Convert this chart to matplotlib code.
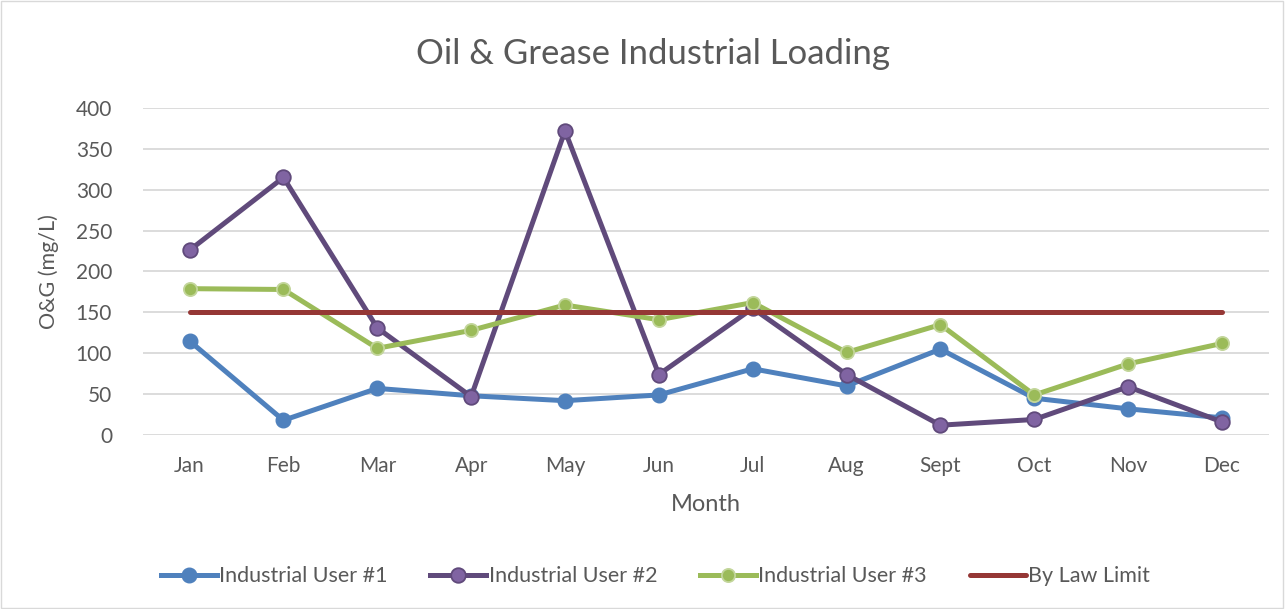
import matplotlib
matplotlib.use("Agg")
import matplotlib.pyplot as plt
from matplotlib.patches import Rectangle

months = ["Jan", "Feb", "Mar", "Apr", "May", "Jun", "Jul", "Aug", "Sept", "Oct", "Nov", "Dec"]
user1 = [115, 18, 57, 48, 42, 49, 81, 60, 105, 45, 32, 21]
user2 = [226, 315, 131, 47, 372, 74, 155, 74, 12, 19, 59, 16]
user3 = [179, 178, 106, 128, 159, 141, 162, 101, 135, 49, 87, 112]
limit = [150] * 12

plt.rcParams['font.family'] = ['Lato', 'DejaVu Sans']

fig = plt.figure(figsize=(12.85, 6.09), dpi=100)
ax = fig.add_axes([0.111, 0.2857, 0.8765, 0.537])

x = list(range(len(months)))
ax.plot(x, user1, color="#4F81BD", lw=3.6, marker="o", ms=10.5,
        mfc="#4F81BD", mec="#4F81BD", label="Industrial User #1", zorder=3)
ax.plot(x, user2, color="#604A7B", lw=3.6, marker="o", ms=10.5,
        mfc="#8064A2", mec="#604A7B", mew=1.3, label="Industrial User #2", zorder=3)
ax.plot(x, user3, color="#9BBB59", lw=3.6, marker="o", ms=9.5,
        mfc="#9BBB59", mec="#C3D69B", mew=1.3, label="Industrial User #3", zorder=3)
ax.plot(x, limit, color="#953735", lw=3.6, solid_capstyle="round",
        label="By Law Limit", zorder=3)

ax.set_xlim(-0.5, 11.5)
ax.set_ylim(0, 400)
ax.set_yticks(range(0, 401, 50))
ax.set_xticks(x)
ax.set_xticklabels(months)
ax.grid(axis="y", color="#D9D9D9", lw=1.3)
ax.set_axisbelow(True)
for s in ax.spines.values():
    s.set_visible(False)
ax.tick_params(length=0, labelsize=15, labelcolor="#595959")
ax.tick_params(axis="x", pad=15)
ax.tick_params(axis="y", pad=22)

fig.text(0.508, 0.912, "Oil & Grease Industrial Loading", fontsize=25, color="#595959",
         ha="center", va="center")
ax.set_xlabel("Month", fontsize=17, color="#595959", labelpad=13)
ax.set_ylabel("O&G (mg/L)", fontsize=15.5, color="#595959", labelpad=12)

fig.legend(loc="center", bbox_to_anchor=(0.51, 0.054), ncol=4, frameon=False,
           fontsize=15.5, handlelength=2.6, columnspacing=2.0, handletextpad=0.1,
           labelcolor="#595959")

fig.patches.append(Rectangle((0.0005, 0.001), 0.998, 0.997, transform=fig.transFigure,
                             fill=False, ec="#D9D9D9", lw=1))

plt.savefig("out.png", dpi=100)
